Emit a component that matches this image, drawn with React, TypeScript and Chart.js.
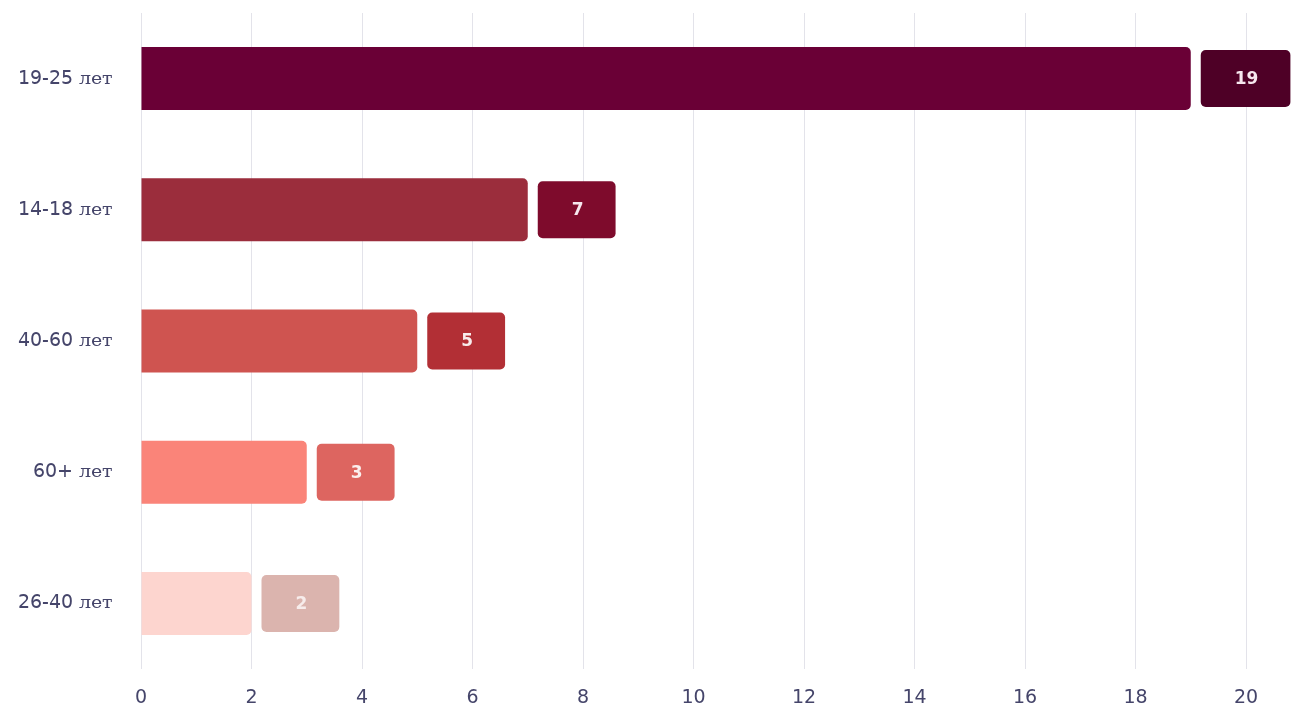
import React, { useEffect, useRef } from "react";
import { Chart, registerables } from "chart.js";

Chart.register(...registerables);

const categories = ["19-25 лет", "14-18 лет", "40-60 лет", "60+ лет", "26-40 лет"];
const values = [19, 7, 5, 3, 2];
const barColors = ["#6a0036", "#9b2d3c", "#cf5450", "#fa8479", "#fdd5cf"];
const badgeColors = ["#4e0026", "#7e0b2c", "#b22f35", "#dd6560", "#dbb4ae"];
const badgeTextColors = ["#f6e7ee", "#f6e7ee", "#f8ecec", "#fbefee", "#f7eceb"];
const xMin = 0;
const xMax = 20;
const xStep = 2;

const W = 1291;
const H = 710;

const badgePlugin = {
  id: "badges",
  afterDatasetsDraw(chart: any) {
    const ctx = chart.ctx;
    const meta = chart.getDatasetMeta(0);
    meta.data.forEach((bar: any, i: number) => {
      const p = bar.getProps(["x", "y", "height"], true);
      const text = String(values[i]);
      ctx.save();
      ctx.font = "bold 17px 'DejaVu Sans'";
      const tw = ctx.measureText(text).width;
      const h = p.height - 6;
      const w = tw + 66;
      const bx = p.x + 10;
      const by = p.y - h / 2;
      ctx.fillStyle = badgeColors[i];
      ctx.beginPath();
      ctx.roundRect(bx, by, w, h, 5);
      ctx.fill();
      ctx.fillStyle = badgeTextColors[i];
      ctx.textAlign = "center";
      ctx.textBaseline = "middle";
      ctx.fillText(text, bx + w / 2 + 1, p.y + 1);
      ctx.restore();
    });
  },
};

function ensureFonts() {
  if (!document.getElementById("mixfont")) {
    const st = document.createElement("style");
    st.id = "mixfont";
    st.textContent =
      "@font-face{font-family:'MixLabel';src:local('DejaVu Sans');unicode-range:U+0000-024F;}" +
      "@font-face{font-family:'MixLabel';src:local('DejaVu Serif');unicode-range:U+0400-04FF;}";
    document.head.appendChild(st);
  }
  return Promise.all([
    document.fonts.load("19px MixLabel", "19-25 лет"),
    document.fonts.load("19px 'DejaVu Sans'", "0123456789"),
    document.fonts.load("bold 17px 'DejaVu Sans'", "0123456789"),
  ]).catch(() => null);
}

export default function App() {
  const ref = useRef<HTMLCanvasElement | null>(null);
  useEffect(() => {
    let chart: any = null;
    let cancelled = false;
    ensureFonts().then(() => {
      if (cancelled || !ref.current) return;
      chart = new Chart(ref.current, {
        type: "bar",
        data: {
          labels: categories,
          datasets: [
            {
              data: values,
              backgroundColor: barColors,
              borderRadius: 5,
              borderSkipped: "start",
              categoryPercentage: 1,
              barPercentage: 0.48,
            },
          ],
        },
        options: {
          indexAxis: "y",
          animation: false,
          responsive: false,
          maintainAspectRatio: false,
          layout: { padding: { top: 13, right: 45, bottom: 0, left: 0 } },
          plugins: {
            legend: { display: false },
            tooltip: { enabled: false },
          },
          scales: {
            x: {
              min: xMin,
              max: xMax,
              ticks: {
                stepSize: xStep,
                color: "#45456a",
                font: { family: "'DejaVu Sans'", size: 19 },
                padding: 18,
              },
              grid: { color: "#e3e3ea", drawTicks: false, lineWidth: 1 },
              border: { display: false },
              afterFit(scale: any) {
                scale.height = 41;
                scale.paddingTop = 0;
                scale.paddingBottom = 0;
              },
            },
            y: {
              ticks: {
                color: "#45456a",
                font: { family: "MixLabel, 'DejaVu Sans'", size: 19 },
                padding: 28,
              },
              grid: { display: false, drawTicks: false },
              border: { display: false },
              afterFit(scale: any) {
                scale.width = 141;
                scale.paddingTop = 0;
                scale.paddingBottom = 0;
              },
            },
          },
        },
        plugins: [badgePlugin],
      });
    });
    return () => {
      cancelled = true;
      if (chart) chart.destroy();
    };
  }, []);
  return (
    <div style={{ position: "fixed", left: 0, top: 0, width: W, height: H, background: "#fff" }}>
      <canvas ref={ref} width={W} height={H} style={{ width: W, height: H, display: "block" }} />
    </div>
  );
}
